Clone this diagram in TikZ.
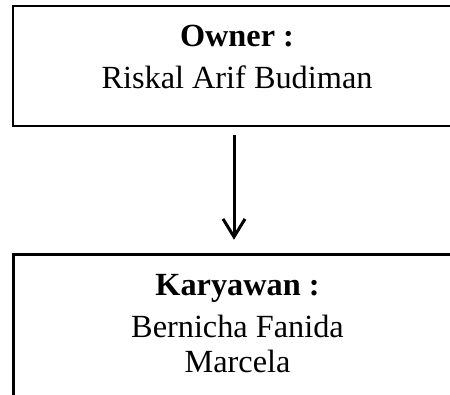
\documentclass[tikz,border=0pt]{standalone}
\usepackage{fontspec}
\setmainfont{Liberation Serif}
\usetikzlibrary{arrows.meta}
\begin{document}
\begin{tikzpicture}[x=1pt, y=1pt,
    box/.style={draw, line width=2.5pt, minimum width=520pt, inner sep=0pt},
    txt/.style={anchor=base, inner sep=0pt, font=\fontsize{32.3}{42}\selectfont}]
    \useasboundingbox (0,0) rectangle (450,394);
    \clip (0,0) rectangle (450,394);
    \node[box, minimum height=120pt] (owner) at (273,328) {};
    \node[box, minimum height=160pt] (karyawan) at (273.5,59.5) {};
    \node[txt] (ownerhd) at (237,347) {\textbf{Owner :}};
    \node[txt] (ownernm) at (237,305) {Riskal Arif Budiman};
    \node[txt] (karyhd) at (237.5,99) {\textbf{Karyawan :}};
    \node[txt] (karynm1) at (237.5,57) {Bernicha Fanida};
    \node[txt] (karynm2) at (237.5,22) {Marcela};
    \draw[-{Straight Barb[length=18pt, width=22pt]}, line width=3pt, shorten <=7.5pt, shorten >=13.5pt]
        ([xshift=-39pt]owner.south) -- ([xshift=-39.5pt]karyawan.north);
\end{tikzpicture}
\end{document}
